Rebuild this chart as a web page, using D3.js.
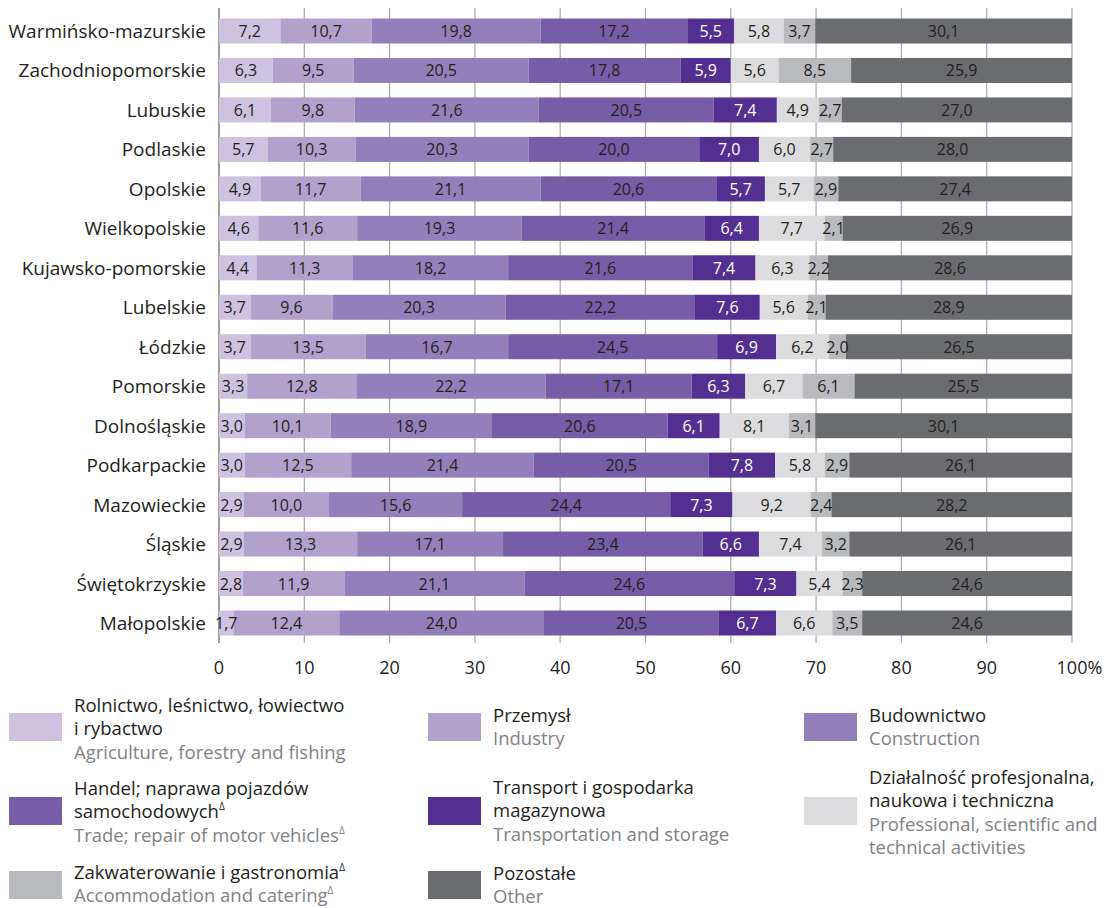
<!DOCTYPE html>
<html><head><meta charset="utf-8">
<script src="https://cdn.jsdelivr.net/npm/d3@7"></script>
<style>
body{margin:0;background:#fff;}
text{font-family:"Open Sans","Noto Sans",sans-serif;}
</style></head>
<body><svg id="c" width="1107" height="908"></svg>
<script>
const regions = ["Warmińsko-mazurskie","Zachodniopomorskie","Lubuskie","Podlaskie","Opolskie","Wielkopolskie","Kujawsko-pomorskie","Lubelskie","Łódzkie","Pomorskie","Dolnośląskie","Podkarpackie","Mazowieckie","Śląskie","Świętokrzyskie","Małopolskie"];
const agriculture   = [7.2,6.3,6.1,5.7,4.9,4.6,4.4,3.7,3.7,3.3,3.0,3.0,2.9,2.9,2.8,1.7];
const industry      = [10.7,9.5,9.8,10.3,11.7,11.6,11.3,9.6,13.5,12.8,10.1,12.5,10.0,13.3,11.9,12.4];
const construction  = [19.8,20.5,21.6,20.3,21.1,19.3,18.2,20.3,16.7,22.2,18.9,21.4,15.6,17.1,21.1,24.0];
const trade         = [17.2,17.8,20.5,20.0,20.6,21.4,21.6,22.2,24.5,17.1,20.6,20.5,24.4,23.4,24.6,20.5];
const transport     = [5.5,5.9,7.4,7.0,5.7,6.4,7.4,7.6,6.9,6.3,6.1,7.8,7.3,6.6,7.3,6.7];
const professional  = [5.8,5.6,4.9,6.0,5.7,7.7,6.3,5.6,6.2,6.7,8.1,5.8,9.2,7.4,5.4,6.6];
const accommodation = [3.7,8.5,2.7,2.7,2.9,2.1,2.2,2.1,2.0,6.1,3.1,2.9,2.4,3.2,2.3,3.5];
const other         = [30.1,25.9,27.0,28.0,27.4,26.9,28.6,28.9,26.5,25.5,30.1,26.1,28.2,26.1,24.6,24.6];
const ticks = [0,10,20,30,40,50,60,70,80,90,100];

const seriesKeys = ["agriculture","industry","construction","trade","transport","professional","accommodation","other"];
const seriesVals = [agriculture,industry,construction,trade,transport,professional,accommodation,other];
const colors = ["#cdc3e0","#b0a2cd","#9280bb","#755da8","#532f92","#dcdcde","#b9babd","#6b6c70"];
const labelColors = ["#231f20","#231f20","#231f20","#231f20","#ffffff","#231f20","#231f20","#231f20"];

const legendItems = [
  {k:"agriculture", pl:["Rolnictwo, leśnictwo, łowiectwo","i rybactwo"], en:["Agriculture, forestry and fishing"]},
  {k:"industry", pl:["Przemysł"], en:["Industry"]},
  {k:"construction", pl:["Budownictwo"], en:["Construction"]},
  {k:"trade", pl:["Handel; naprawa pojazdów","samochodowych^"], en:["Trade; repair of motor vehicles^"]},
  {k:"transport", pl:["Transport i gospodarka","magazynowa"], en:["Transportation and storage"]},
  {k:"professional", pl:["Działalność profesjonalna,","naukowa i techniczna"], en:["Professional, scientific and","technical activities"]},
  {k:"accommodation", pl:["Zakwaterowanie i gastronomia^"], en:["Accommodation and catering^"]},
  {k:"other", pl:["Pozostałe"], en:["Other"]}
];

const table = regions.map((r,i)=>{const o={region:r}; seriesKeys.forEach((k,j)=>o[k]=seriesVals[j][i]); return o;});
const stack = d3.stack().keys(seriesKeys)(table);

const svg = d3.select("#c");
const x = d3.scaleLinear().domain([0,100]).range([219,1072]);
const y = d3.scalePoint().domain(regions).range([31,623]);
const barH = 25;
const color = d3.scaleOrdinal().domain(seriesKeys).range(colors);

// grid
svg.append("g").selectAll("line").data(ticks).join("line")
  .attr("x1",d=>x(d)).attr("x2",d=>x(d)).attr("y1",8).attr("y2",643)
  .attr("stroke",d=>d===0?"#6d6e71":"#a7a9ac").attr("stroke-width",d=>d===0?1.3:1.2);

// bars
const gs = svg.append("g").selectAll("g").data(stack).join("g").attr("fill",d=>color(d.key));
gs.selectAll("rect").data(d=>d).join("rect")
  .attr("x",d=>x(d[0])).attr("width",d=>x(d[1])-x(d[0]))
  .attr("y",d=>y(d.data.region)-barH/2).attr("height",barH);

// value labels
const fmt = v=>v.toFixed(1).replace(".",",");
const lg = svg.append("g");
stack.forEach((s,j)=>{
  lg.selectAll(null).data(s).join("text")
    .attr("x",d=>x((d[0]+d[1])/2)).attr("y",d=>y(d.data.region)+6)
    .attr("text-anchor","middle").attr("font-size",16).attr("fill",labelColors[j])
    .text(d=>fmt(d[1]-d[0]));
});

// category labels
svg.append("g").selectAll("text").data(regions).join("text")
  .attr("x",206).attr("y",d=>y(d)+7).attr("text-anchor","end")
  .attr("font-size",19).attr("fill","#231f20").text(d=>d);

// x tick labels
const tg = svg.append("g");
ticks.forEach(t=>{
  const tx = tg.append("text").attr("x",x(t)).attr("y",674).attr("font-size",18).attr("fill","#231f20").attr("text-anchor","middle").text(t);
  if(t===100){
    const w = tx.node().getComputedTextLength();
    tg.append("text").attr("x",x(t)+w/2).attr("y",674).attr("font-size",18).attr("fill","#231f20").text("%");
  }
});

// legend
const colX = [9,428,804];
const rowSw = [713,797,871];
const swW = 53, swH = 28;
const txtOff = 65;
const lineH = 23.5;
const plTop = [[705,715,715],[788,787,777],[872,873]];
function addLine(g, str, xx, yy, fill){
  const t = g.append("text").attr("x",xx).attr("y",yy).attr("font-size",18.5).attr("fill",fill);
  if(str.endsWith("^")){
    t.append("tspan").text(str.slice(0,-1));
    t.append("tspan").attr("font-size",10).attr("dy",-8).text("Δ");
  } else t.text(str);
}
const lgG = svg.append("g");
legendItems.forEach((it,i)=>{
  const r = Math.floor(i/3), c = i%3;
  lgG.append("rect").attr("x",colX[c]).attr("y",rowSw[r]).attr("width",swW).attr("height",swH).attr("fill",color(it.k));
  let yy = plTop[r][c] + 6.5;
  it.pl.forEach(s=>{addLine(lgG,s,colX[c]+txtOff,yy,"#231f20"); yy+=lineH;});
  it.en.forEach(s=>{addLine(lgG,s,colX[c]+txtOff,yy,"#808285"); yy+=lineH;});
});
</script></body></html>
